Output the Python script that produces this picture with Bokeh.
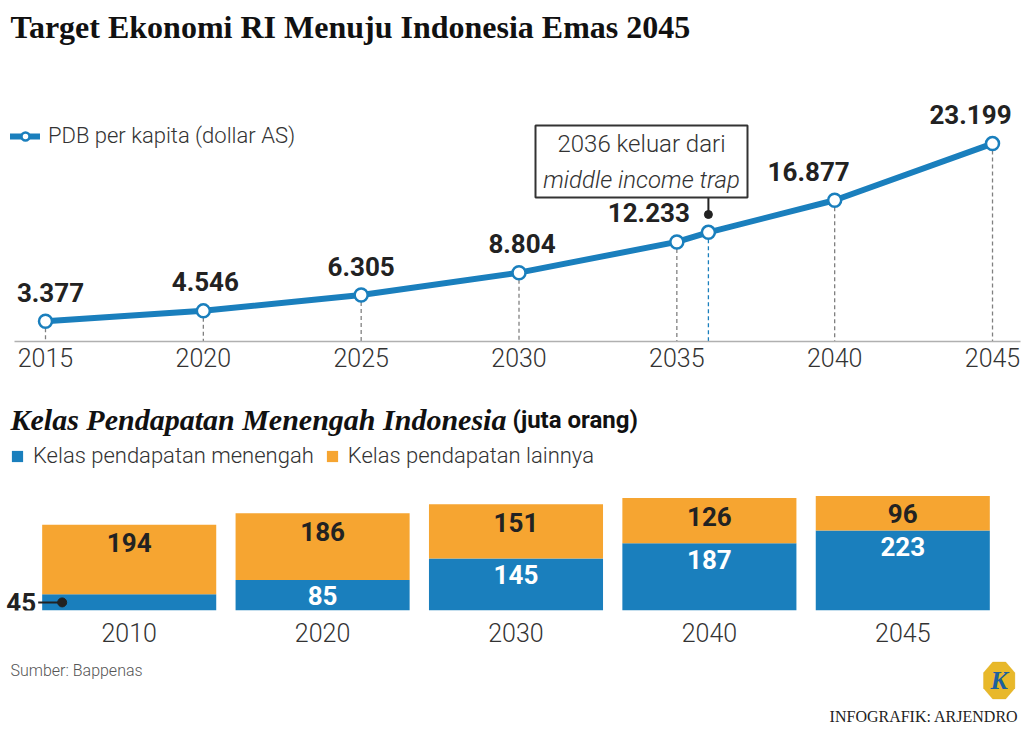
from bokeh.plotting import figure
from bokeh.models import (Range1d, FixedTicker, Label, BoxAnnotation, PolyAnnotation,
                          ColumnDataSource, Legend, LegendItem)
from bokeh.layouts import column
from bokeh.embed import file_html
from bokeh.resources import INLINE
from bokeh.core.properties import value
import numpy as np

# ---------------- data ----------------
title_text = "Target Ekonomi RI Menuju Indonesia Emas 2045"
gdp_years = [2015, 2020, 2025, 2030, 2035, 2040, 2045]
gdp_values = [3377, 4546, 6305, 8804, 12233, 16877, 23199]
exit_year = 2036
exit_value = 13300
gdp_legend = "PDB per kapita (dollar AS)"
exit_note = ["2036 keluar dari", "middle income trap"]

bar_categories = ["2010", "2020", "2030", "2040", "2045"]
middle_class = [45, 85, 145, 187, 223]
other_class = [194, 186, 151, 126, 96]
bar_title = "Kelas Pendapatan Menengah Indonesia"
bar_unit = "(juta orang)"
bar_series = ["Kelas pendapatan menengah", "Kelas pendapatan lainnya"]
source_text = "Sumber: Bappenas"
credit_text = "INFOGRAFIK: ARJENDRO"

# ---------------- style ----------------
BLUE = "#1a7fbd"
ORANGE = "#f6a531"
DARK = "#222222"
GREY = "#333333"
LIGHT = "'Roboto Light', Roboto"
BOLD = "Roboto"
SERIF = "Liberation Serif"
W = 1022


def base_fig(h, xr, yr, mb):
    f = figure(width=W, height=h, x_range=Range1d(*xr), y_range=Range1d(*yr),
               output_backend="svg", toolbar_location=None, y_axis_location=None,
               min_border_left=0, min_border_right=0, min_border_top=0,
               min_border_bottom=mb, outline_line_color=None)
    f.grid.visible = False
    return f


def screen_label(f, x, y, text, font, size, color=GREY, style="normal",
                 align="left", baseline="middle"):
    f.add_layout(Label(x=x, y=y, x_units="screen", y_units="screen", text=text,
                       text_font=font, text_font_size=size, text_font_style=style,
                       text_color=color, text_align=align, text_baseline=baseline))


# ================= line chart =================
H1 = 388
MB1 = 47
FH1 = H1 - MB1
X1 = (2013.5745, 2045.95)
Y1 = (1128, 39156)
k1 = (Y1[1] - Y1[0]) / FH1  # data units per pixel

p1 = base_fig(H1, X1, Y1, MB1)
ax = p1.xaxis[0]
ax.ticker = FixedTicker(ticks=gdp_years)
ax.bounds = (2014.02, 2045.88)
ax.major_tick_line_color = None
ax.minor_tick_line_color = None
ax.axis_line_color = "#b0b0b0"
ax.axis_line_width = 1.5
ax.major_label_text_font = LIGHT
ax.major_label_text_font_size = "25px"
ax.major_label_text_color = GREY
ax.major_label_standoff = 0

pts = sorted(zip(gdp_years + [exit_year], gdp_values + [exit_value]))
all_years = [a for a, b in pts]
all_values = [b for a, b in pts]

p1.segment(x0=gdp_years, y0=gdp_values, x1=gdp_years, y1=[Y1[0]] * len(gdp_years),
           line_color="#808080", line_dash="4 3", line_width=1.3)
p1.segment(x0=[exit_year], y0=[exit_value], x1=[exit_year], y1=[Y1[0]],
           line_color=BLUE, line_dash="4 3", line_width=1.3)
line_r = p1.line(all_years, all_values, line_width=6, line_color=BLUE,
                 line_join="round", line_cap="round")
mark_r = p1.scatter(all_years, all_values, size=13, fill_color="white",
                    line_color=BLUE, line_width=2.5)

label_dx = [5, 2, 0, 3, -28, -26, -22]
src = ColumnDataSource(dict(x=gdp_years, y=gdp_values,
                            t=[f"{v:,}".replace(",", ".") for v in gdp_values],
                            dx=label_dx))
p1.text(x="x", y="y", text="t", x_offset="dx", y_offset=-29, source=src,
        text_align="center", text_baseline="middle", text_color=DARK,
        text_font=value(BOLD), text_font_style="bold", text_font_size="26px")

# annotation for 2036
p1.add_layout(BoxAnnotation(left=535, right=747, bottom=144, top=216,
                            left_units="screen", right_units="screen",
                            bottom_units="screen", top_units="screen",
                            fill_color="white", fill_alpha=1.0,
                            line_color="#333333", line_width=2, line_alpha=1.0))
screen_label(p1, 641, 198, exit_note[0], LIGHT, "24px", align="center")
screen_label(p1, 641, 162, exit_note[1], LIGHT, "24px", style="italic", align="center")
p1.segment(x0=[exit_year], x1=[exit_year], y0=[Y1[0] + 144 * k1], y1=[Y1[0] + 127 * k1],
           line_color=DARK, line_width=2)
p1.scatter([exit_year], [Y1[0] + 127 * k1], size=8, fill_color=DARK, line_color=DARK)

screen_label(p1, 10, 315, title_text, SERIF, "32px", color="#111111", style="bold",
             baseline="alphabetic")

leg1 = Legend(items=[LegendItem(label=gdp_legend, renderers=[line_r, mark_r])],
              location=(10, 193), glyph_width=30, glyph_height=20, label_height=20,
              padding=0, margin=0, label_standoff=8, background_fill_alpha=0,
              border_line_color=None, label_text_font=LIGHT,
              label_text_font_size="22px", label_text_color=GREY)
p1.add_layout(leg1)

# ================= bar chart =================
H2 = 266
MB2 = 44
FH2 = H2 - MB2
X2 = (-0.6655, 4.619)
Y2 = (0, 618)
kx2 = (X2[1] - X2[0]) / W

idx = list(range(len(bar_categories)))
totals = [a + b for a, b in zip(middle_class, other_class)]

p2 = base_fig(H2, X2, Y2, MB2)
bx = p2.xaxis[0]
bx.ticker = FixedTicker(ticks=idx)
bx.major_label_overrides = {i: c for i, c in zip(idx, bar_categories)}
bx.axis_line_color = None
bx.major_tick_line_color = None
bx.minor_tick_line_color = None
bx.major_label_text_font = LIGHT
bx.major_label_text_font_size = "25px"
bx.major_label_text_color = GREY
bx.major_label_standoff = 6

blue_r = p2.vbar(x=idx, bottom=0, top=middle_class, width=0.9,
                 fill_color=BLUE, line_color=None)
orange_r = p2.vbar(x=idx, bottom=middle_class, top=totals, width=0.9,
                   fill_color=ORANGE, line_color=None)

inside = [i for i in idx if middle_class[i] >= 60]
outside = [i for i in idx if middle_class[i] < 60]
p2.text(x=inside, y=[middle_class[i] for i in inside],
        text=[str(middle_class[i]) for i in inside], y_offset=16,
        text_align="center", text_baseline="middle", text_color="white",
        text_font=value(BOLD), text_font_style="bold", text_font_size="26px")
p2.text(x=idx, y=totals, text=[str(v) for v in other_class], y_offset=18,
        text_align="center", text_baseline="middle", text_color=DARK,
        text_font=value(BOLD), text_font_style="bold", text_font_size="26px")
for i in outside:
    edge = i - 0.45
    ym = middle_class[i] / 2
    p2.segment(x0=[edge - 4 * kx2], x1=[edge + 20 * kx2], y0=[ym], y1=[ym],
               line_color=DARK, line_width=2)
    p2.scatter([edge + 20 * kx2], [ym], size=9, fill_color=DARK, line_color=DARK)
    p2.text(x=[edge], y=[ym], text=[str(middle_class[i])], x_offset=-6,
            text_align="right", text_baseline="middle", text_color=DARK,
            text_font=value(BOLD), text_font_style="bold", text_font_size="26px")

screen_label(p2, 10, 191, bar_title, SERIF, "30px", color="#111111",
             style="bold italic", baseline="alphabetic")
screen_label(p2, 512, 191, bar_unit, BOLD, "24px", color="#111111", style="bold",
             baseline="alphabetic")

leg2 = Legend(items=[LegendItem(label=bar_series[0], renderers=[blue_r]),
                     LegendItem(label=bar_series[1], renderers=[orange_r])],
              orientation="horizontal", location=(10, 142), glyph_width=14,
              glyph_height=14, label_height=14, label_standoff=9, spacing=11,
              padding=0, margin=0, background_fill_alpha=0, border_line_color=None,
              label_text_font=LIGHT, label_text_font_size="22px",
              label_text_color=GREY)
p2.add_layout(leg2)

# ================= footer =================
H3 = 86
p3 = figure(width=W, height=H3, x_range=Range1d(0, 1), y_range=Range1d(0, 1),
            output_backend="svg", toolbar_location=None, x_axis_location=None,
            y_axis_location=None, min_border=0, outline_line_color=None)
p3.grid.visible = False
screen_label(p3, 10, 70, source_text, LIGHT, "16px", color="#555555")
screen_label(p3, 1018, 24, credit_text, SERIF, "16px", color="#222222", align="right")
ang = np.deg2rad(22.5 + 45 * np.arange(8))
cx, cy = 998.7, 60
p3.add_layout(PolyAnnotation(xs=list(cx + 17 * np.cos(ang)), ys=list(cy + 20 * np.sin(ang)),
                             xs_units="screen", ys_units="screen",
                             fill_color="#e8b82a", fill_alpha=1.0, line_color="#d9a81c",
                             line_width=1))
screen_label(p3, cx, cy, "K", SERIF, "26px", color="#1c5f9e", style="bold italic",
             align="center")

layout = column(p1, p2, p3, spacing=0)
open("out.html", "w").write(file_html(layout, INLINE))
